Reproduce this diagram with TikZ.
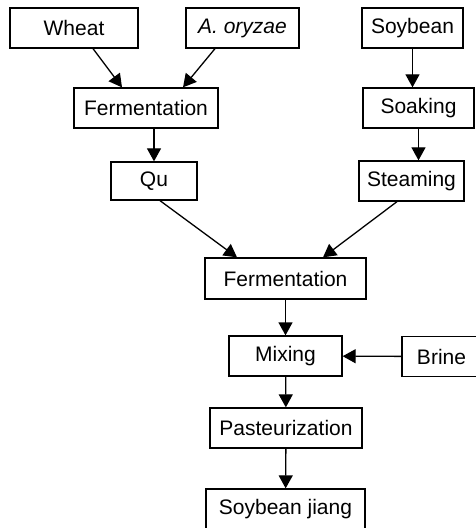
\documentclass[tikz,border=0pt]{standalone}
\usepackage{fontspec}
\setmainfont{Liberation Sans}
\usetikzlibrary{arrows.meta,positioning,calc}

\begin{document}
\begin{tikzpicture}[
    x=0.5pt, y=-0.5pt,
    box/.style={rectangle, draw=black, line width=0.65pt, align=center, minimum height=20pt, inner sep=0pt, font=\fontsize{10.5}{12}\selectfont},
    arrow/.style={-{Triangle[length=6.5pt, width=7pt]}, line width=0.65pt}
  ]
    \useasboundingbox (0,0) rectangle (475,528);
    % raw materials
    \node[box, minimum width=64pt] (wheat) at (74,28) {Wheat};
    \node[box, minimum width=56.5pt] (oryzae) at (242.5,28) {\textit{A. oryzae}};
    \node[box, minimum width=50.5pt] (soybean) at (412.5,28) {Soybean};
    % koji and bean preparation
    \node[box, minimum width=72pt] (ferm) at (146,108) {Fermentation};
    \node[box, minimum width=55.5pt] (soak) at (418.5,108) {Soaking};
    \node[box, minimum width=43pt, minimum height=19pt] (qu) at (154,181) {Qu};
    \node[box, minimum width=52.5pt] (steam) at (411.5,181) {Steaming};
    % main line
    \node[box, minimum width=80.5pt, minimum height=20.5pt] (fermtwo) at (285.5,278.5) {Fermentation};
    \node[box, minimum width=56.5pt] (mix) at (285.5,356) {Mixing};
    \node[box, minimum width=39.5pt] (brine) at (441.5,356.5) {Brine};
    \node[box, minimum width=76pt] (pasteur) at (286,428) {Pasteurization};
    \node[box, minimum width=79.5pt] (jiang) at (285.5,509) {Soybean jiang};
    \draw[arrow] ($(wheat.south)+(19,0)$) -- ($(ferm.north)+(-24,0)$);
    \draw[arrow] ($(oryzae.south)+(-27.5,0)$) -- ($(ferm.north)+(37,0)$);
    \draw[arrow] (ferm.south -| qu.north) -- (qu.north);
    \draw[arrow] (soybean.south) -- (soybean.south |- soak.north);
    \draw[arrow] (soak.south) -- (soak.south |- steam.north);
    \draw[arrow] ($(qu.south)+(6,0)$) -- ($(fermtwo.north)+(-48.5,0)$);
    \draw[arrow] ($(steam.south)+(-14.5,0)$) -- ($(fermtwo.north)+(37.5,0)$);
    \draw[arrow] (fermtwo) -- (mix);
    \draw[arrow] (brine) -- (mix);
    \draw[arrow] (mix) -- (pasteur);
    \draw[arrow] (pasteur) -- (jiang);
  \end{tikzpicture}
\end{document}
